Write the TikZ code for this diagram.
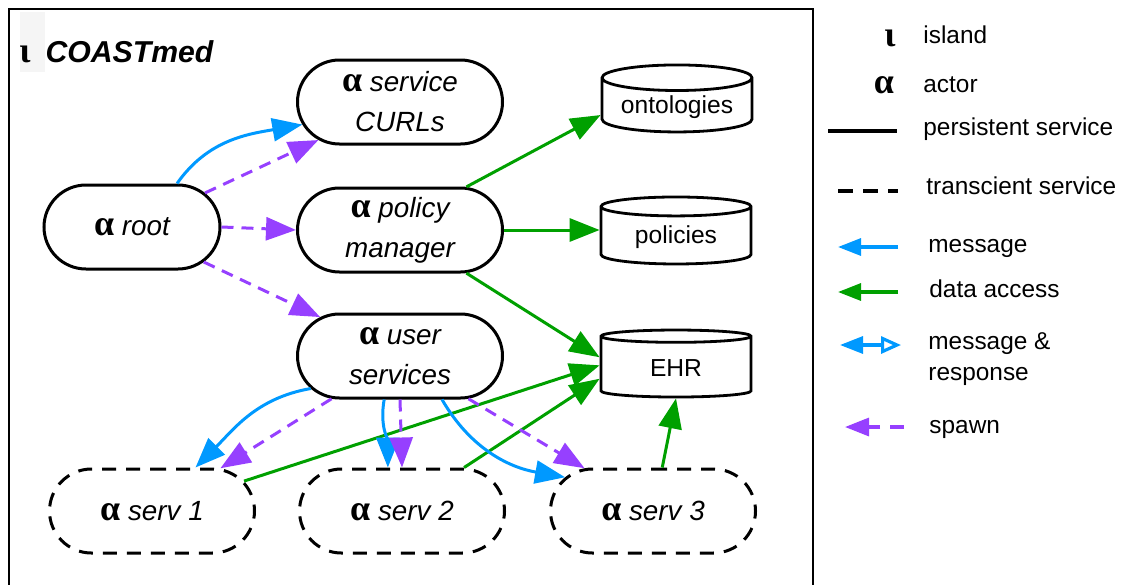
\documentclass[tikz,border=0pt]{standalone}
\usepackage{amsmath,amssymb}
\usepackage{fontspec}
\setmainfont{Liberation Sans}
\newfontfamily\grkfont{Liberation Serif}
\usepackage{tikz}
\usetikzlibrary{arrows.meta}
\usetikzlibrary{positioning}
\usetikzlibrary{shapes.misc,shapes.geometric}

\definecolor{msgblue}{RGB}{0,153,255}
\definecolor{spawnpurple}{RGB}{150,64,255}
\definecolor{datagreen}{RGB}{0,160,0}

\newcommand{\actr}{{\grkfont\bfseries\upshape\fontsize{18}{18}\selectfont α}}
\newcommand{\islnd}{{\grkfont\bfseries\upshape\fontsize{18}{18}\selectfont ι}}

\tikzset{
    actor/.style={rounded rectangle, draw, line width=1.5pt, minimum width=106.5pt, minimum height=42pt,
        inner sep=2pt, align=center, font=\fontsize{13.9}{20}\selectfont\itshape},
    transient/.style={actor, dash pattern=on 7pt off 5pt},
    store/.style={cylinder, shape border rotate=90, draw, line width=1.4pt, aspect=0.22,
        minimum width=75pt, minimum height=33.5pt, inner sep=1pt, font=\fontsize{12.3}{15}\selectfont},
    msg/.style={msgblue, line width=1.5pt, -{Triangle[length=15pt,width=11.5pt]}},
    spawn/.style={spawnpurple, line width=1.5pt, dash pattern=on 6pt off 4pt, -{Triangle[length=15pt,width=11.5pt]}},
    data/.style={datagreen, line width=1.5pt, -{Triangle[length=15pt,width=11.5pt]}},
    legtext/.style={anchor=base west, inner sep=0pt, font=\fontsize{12.2}{15.5}\selectfont},
    legsym/.style={inner sep=0pt},
}

\begin{document}
\begin{tikzpicture}[x=0.5pt,y=-0.5pt]
        \useasboundingbox (0,0) rectangle (1122,584);
        \fill[black!4] (20,12) rectangle (45,72);
        \draw[line width=1.2pt] (9,9) rectangle (813,600);
        \node[anchor=west, inner sep=0pt, font=\fontsize{15.1}{18}\selectfont\bfseries\itshape] (coast) at (19,52) {\islnd\hspace{7.5pt}COASTmed};

        \node[actor, minimum width=92pt] (root) at (132,227) {\actr\ root};
        \node[actor] (curls) at (400,102) {\actr\ service\\CURLs};
        \node[actor] (policy) at (400,230) {\actr\ policy\\manager};
        \node[actor] (user) at (400,356) {\actr\ user\\services};
        \node[transient] (serv1) at (152,511) {\actr\ serv 1};
        \node[transient] (serv2) at (402,511) {\actr\ serv 2};
        \node[transient] (serv3) at (653,511) {\actr\ serv 3};

        \node[store] (onto) at (677,107) {ontologies};
        \node[store] (pols) at (676,237) {policies};
        \node[store] (ehr) at (676,368) {EHR};

        \draw[msg] (root.44) to[out=55,in=190] (curls.193);
        \draw[spawn] (root.25) -- (curls.205);
        \draw[spawn] (root.east) -- (policy.west);
        \draw[spawn] (root.-26) -- (user.154);

        \draw[data] (policy.33) -- (onto.186);
        \draw[data] (policy.east) -- (policy.east -| pols.west);
        \draw[data] (policy.-33) -- (ehr.172);
        \draw[data] (serv1.18) -- (ehr.178);
        \draw[data] (serv2.35) -- (ehr.188);
        \draw[data] (serv3.78) -- (ehr.south);

        \draw[msg] (user.200) to[out=190,in=45] (serv1.45);
        \draw[spawn] (user.212) -- (serv1.32);
        \draw[msg] (user.250) to[out=260,in=90] (serv2.108);
        \draw[spawn] (user.south) -- (serv2.north);
        \draw[msg] (user.-46) to[out=-60,in=170] (serv3.159);
        \draw[spawn] (user.-32) -- (serv3.148);

        % legend
        \node[legsym] (symisl) at (890,38) {\islnd};
        \node[legtext] (txtisl) at (923,43) {island};
        \node[legsym] (symact) at (884,85) {\actr};
        \node[legtext] (txtact) at (923,92) {actor};
        \coordinate (pers1) at (828,131);
        \coordinate (pers2) at (897,131);
        \draw[line width=1.8pt] (pers1) -- (pers2);
        \node[legtext] (txtpers) at (923,135) {persistent service};
        \coordinate (tran1) at (838,191);
        \coordinate (tran2) at (898,191);
        \draw[line width=1.8pt, dash pattern=on 7.5pt off 5pt] (tran1) -- (tran2);
        \node[legtext] (txttran) at (926,194) {transcient service};
        \coordinate (msg1) at (898,247);
        \coordinate (msg2) at (838,247);
        \draw[msgblue, line width=1.6pt, -{Triangle[length=11.5pt,width=8.5pt]}] (msg1) -- (msg2);
        \node[legtext] (txtmsg) at (928,252) {message};
        \coordinate (dat1) at (898,292);
        \coordinate (dat2) at (838,292);
        \draw[datagreen, line width=1.6pt, -{Triangle[length=11.5pt,width=8.5pt]}] (dat1) -- (dat2);
        \node[legtext] (txtdat) at (929,297) {data access};
        \coordinate (resp1) at (840,345);
        \coordinate (resp2) at (901,345);
        \draw[msgblue, line width=1.6pt, {Triangle[length=11.5pt,width=8.5pt]}-{Triangle[open,length=10pt,width=8.5pt]}] (resp1) -- (resp2);
        \node[legtext, anchor=west, align=left] (txtresp) at (928,359) {message \&\\response};
        \coordinate (spw1) at (904,427);
        \coordinate (spw2) at (845,427);
        \draw[spawnpurple, line width=1.6pt, dash pattern=on 7pt off 5pt, -{Triangle[length=12pt,width=9pt]}] (spw1) -- (spw2);
        \node[legtext] (txtspw) at (929,433) {spawn};
\end{tikzpicture}
\end{document}
